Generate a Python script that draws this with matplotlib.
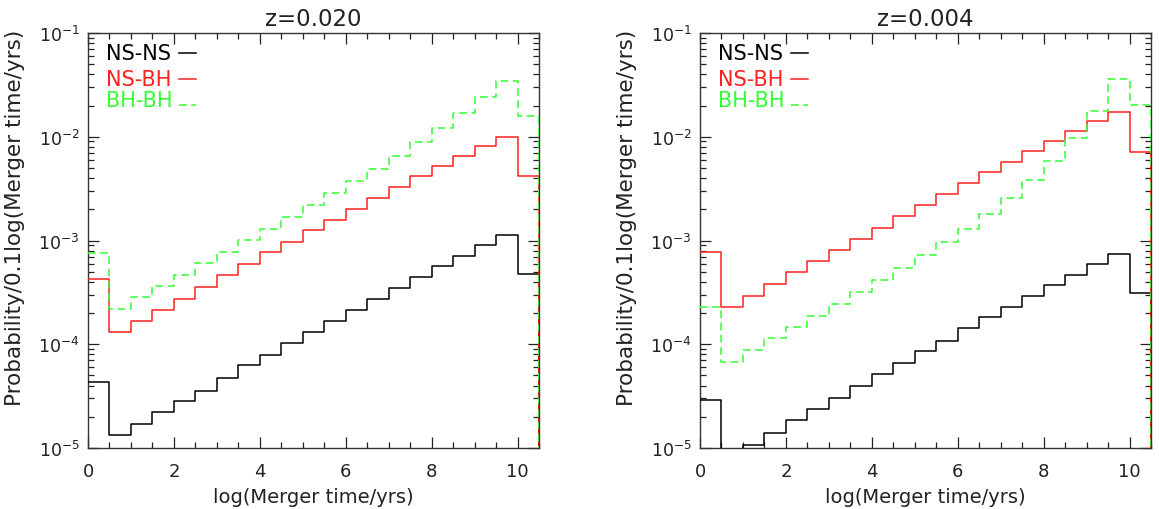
import numpy as np
import matplotlib
matplotlib.use("Agg")
import matplotlib.pyplot as plt
from matplotlib.ticker import MultipleLocator, LogLocator, NullFormatter

# ---- data ----
bin_edges = np.arange(0, 10.51, 0.5)   # log(Merger time/yrs) bins of width 0.5

titles = ["z=0.020", "z=0.004"]
series_names = ["NS-NS", "NS-BH", "BH-BH"]

# z = 0.020
ns_ns_z020 = [4.3e-5, 1.33e-5, 1.72e-5, 2.21e-5, 2.86e-5, 3.54e-5, 4.69e-5, 6.3e-5, 7.85e-5,
              1.02e-4, 1.31e-4, 1.68e-4, 2.15e-4, 2.73e-4, 3.51e-4, 4.48e-4, 5.71e-4, 7.13e-4,
              9.02e-4, 1.12e-3, 4.75e-4]
ns_bh_z020 = [4.25e-4, 1.31e-4, 1.68e-4, 2.16e-4, 2.75e-4, 3.56e-4, 4.61e-4, 5.92e-4, 7.67e-4,
              9.71e-4, 1.25e-3, 1.59e-3, 2.03e-3, 2.57e-3, 3.28e-3, 4.18e-3, 5.25e-3, 6.59e-3,
              8.18e-3, 1.0e-2, 4.21e-3]
bh_bh_z020 = [7.5e-4, 2.21e-4, 2.83e-4, 3.61e-4, 4.67e-4, 6.01e-4, 7.72e-4, 1.01e-3, 1.29e-3,
              1.69e-3, 2.22e-3, 2.84e-3, 3.71e-3, 4.92e-3, 6.59e-3, 8.93e-3, 1.22e-2, 1.71e-2,
              2.42e-2, 3.47e-2, 1.58e-2]

# z = 0.004
ns_ns_z004 = [2.9e-5, 0.0, 1.06e-5, 1.38e-5, 1.87e-5, 2.38e-5, 3.03e-5, 3.96e-5, 5.2e-5,
              6.64e-5, 8.53e-5, 1.08e-4, 1.42e-4, 1.82e-4, 2.31e-4, 2.92e-4, 3.7e-4, 4.68e-4,
              5.88e-4, 7.38e-4, 3.1e-4]
ns_bh_z004 = [7.67e-4, 2.29e-4, 2.94e-4, 3.8e-4, 4.93e-4, 6.33e-4, 8.14e-4, 1.04e-3, 1.33e-3,
              1.74e-3, 2.22e-3, 2.82e-3, 3.58e-3, 4.53e-3, 5.74e-3, 7.28e-3, 9.08e-3, 1.13e-2,
              1.41e-2, 1.72e-2, 7.11e-3]
bh_bh_z004 = [2.31e-4, 6.78e-5, 8.72e-5, 1.15e-4, 1.46e-4, 1.88e-4, 2.44e-4, 3.21e-4, 4.13e-4,
              5.47e-4, 7.27e-4, 9.6e-4, 1.3e-3, 1.8e-3, 2.57e-3, 3.83e-3, 5.9e-3, 9.75e-3,
              1.76e-2, 3.57e-2, 2.02e-2]

panels = [
    (ns_ns_z020, ns_bh_z020, bh_bh_z020),
    (ns_ns_z004, ns_bh_z004, bh_bh_z004),
]

colors = ["black", "#ff2020", "#33ff33"]
styles = [dict(linestyle="-"), dict(linestyle="-"), dict(linestyle=(0, (5, 3)))]

xlabel = "log(Merger time/yrs)"
ylabel = "Probability/0.1log(Merger time/yrs)"

# ---- figure ----
W, H = 1159, 510
fig = plt.figure(figsize=(W / 100, H / 100), dpi=100)
plt.rcParams["font.family"] = ["DejaVu Sans"]

ax_px = [(88, 34, 539, 449), (700, 34, 1151, 449)]

for (x0, y0, x1, y1), title, series in zip(ax_px, titles, panels):
    ax = fig.add_axes([x0 / W, 1 - y1 / H, (x1 - x0) / W, (y1 - y0) / H])
    ax.set_yscale("log")
    for vals, name, c, st in zip(series, series_names, colors, styles):
        yv = np.append(np.asarray(vals, dtype=float), 0.0)  # histogram closes to zero
        ax.step(bin_edges, yv, where="post", color=c, lw=1.1, zorder=3, **st)
    ax.set_xlim(0, 10.5)
    ax.set_ylim(1e-5, 1e-1)

    ax.xaxis.set_major_locator(MultipleLocator(2))
    ax.xaxis.set_minor_locator(MultipleLocator(0.5))
    ax.yaxis.set_major_locator(LogLocator(base=10, numticks=10))
    ax.yaxis.set_minor_locator(LogLocator(base=10, subs=np.arange(2, 10), numticks=20))
    ax.yaxis.set_minor_formatter(NullFormatter())
    ax.tick_params(which="both", direction="in", top=True, right=True, width=0.9, colors="#222222")
    ax.tick_params(which="major", length=8)
    ax.tick_params(which="minor", length=4)
    ax.tick_params(axis="x", which="major", labelsize=13, pad=10, labelcolor="#222222")
    ax.tick_params(axis="y", which="major", labelsize=12.5, pad=6, labelcolor="#222222")
    for sp in ax.spines.values():
        sp.set_color("#333333")
        sp.set_linewidth(1.0)

    ax.set_title(title, fontsize=16.5, pad=6, color="#222222")
    ax.set_xlabel(xlabel, fontsize=14, color="#222222", va="top")
    ax.xaxis.set_label_coords(0.5, -0.093)
    ax.set_ylabel(ylabel, fontsize=15.5, color="#222222")
    ax.yaxis.set_label_coords(-0.14, 0.557)

    # legend (text + short line sample), IDL style
    text_y = [0.952, 0.889, 0.839]
    line_y = [0.952, 0.888, 0.826]
    for name, c, st, ty, ly in zip(series_names, colors, styles, text_y, line_y):
        ax.text(0.040, ty, name, color=c, fontsize=15, transform=ax.transAxes,
                ha="left", va="center")
        ax.plot([0.202, 0.239], [ly, ly], color=c, lw=1.1, transform=ax.transAxes, **st)

fig.savefig("out.png", dpi=100)
